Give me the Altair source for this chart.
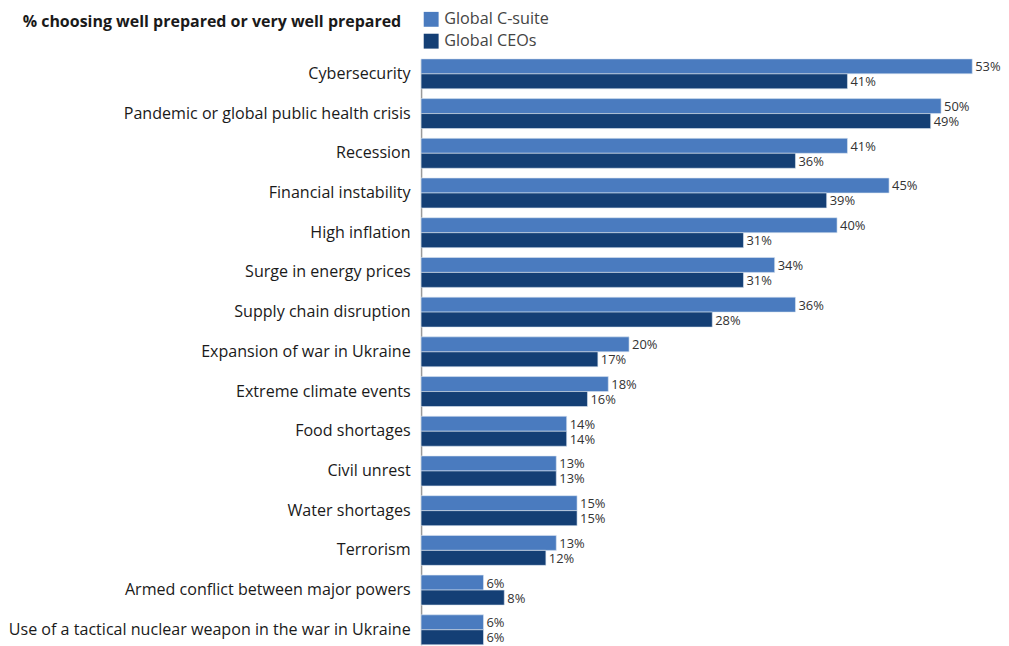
import altair as alt
import pandas as pd

categories = [
    "Cybersecurity",
    "Pandemic or global public health crisis",
    "Recession",
    "Financial instability",
    "High inflation",
    "Surge in energy prices",
    "Supply chain disruption",
    "Expansion of war in Ukraine",
    "Extreme climate events",
    "Food shortages",
    "Civil unrest",
    "Water shortages",
    "Terrorism",
    "Armed conflict between major powers",
    "Use of a tactical nuclear weapon in the war in Ukraine",
]
csuite = [53, 50, 41, 45, 40, 34, 36, 20, 18, 14, 13, 15, 13, 6, 6]
ceos = [41, 49, 36, 39, 31, 31, 28, 17, 16, 14, 13, 15, 12, 8, 6]
series = ["Global C-suite", "Global CEOs"]
colors = ["#4a7bbf", "#143f75"]
title_text = "% choosing well prepared or very well prepared"

rows = []
for c, a, b in zip(categories, csuite, ceos):
    rows.append({"cat": c, "series": series[0], "val": a, "label": f"{a}%"})
    rows.append({"cat": c, "series": series[1], "val": b, "label": f"{b}%"})
df = pd.DataFrame(rows)

FONT = "Open Sans"

y_enc = alt.Y(
    "cat:N",
    sort=categories,
    scale=alt.Scale(paddingInner=0.246, paddingOuter=0),
    axis=alt.Axis(
        title=None,
        ticks=False,
        labelFontSize=16.2,
        labelFont=FONT,
        labelColor="#1a1a1a",
        labelPadding=11,
        labelLimit=0,
        domainColor="#9a9a9a",
        domainWidth=1.5,
    ),
)
x_enc = alt.X("val:Q", scale=alt.Scale(domain=[0, 55]), axis=None)
yoff = alt.YOffset("series:N", sort=series)

base = alt.Chart(df).encode(y=y_enc, x=x_enc, yOffset=yoff)

bars = base.mark_bar(stroke="#dce6f2", strokeWidth=0.6).encode(
    color=alt.Color(
        "series:N",
        sort=series,
        scale=alt.Scale(domain=series, range=colors),
        legend=alt.Legend(
            title=None,
            orient="none",
            legendX=2,
            legendY=-48,
            symbolType="square",
            symbolSize=225,
            symbolStrokeWidth=0,
            symbolOpacity=1,
            labelFontSize=16.3,
            labelFont=FONT,
            labelColor="#444444",
            labelOffset=5,
            rowPadding=5,
            padding=0,
        ),
    )
)

labels = base.mark_text(
    align="left", baseline="middle", dx=3, dy=1, fontSize=13, font=FONT, color="#333333"
).encode(text="label:N")

title = alt.Chart(pd.DataFrame({"t": [title_text]})).mark_text(
    align="right", baseline="middle", fontSize=16.1, fontWeight="bold", font=FONT, color="#1a1a1a"
).encode(text="t:N", x=alt.value(-20), y=alt.value(-37))

chart = (
    alt.layer(bars, labels, title)
    .properties(
        width=576,
        height=590,
        padding={"left": 0, "top": 1, "right": 0, "bottom": 0},
    )
    .configure_view(stroke=None)
)

chart.save("out.html", embed_options={"renderer": "svg", "actions": False})
